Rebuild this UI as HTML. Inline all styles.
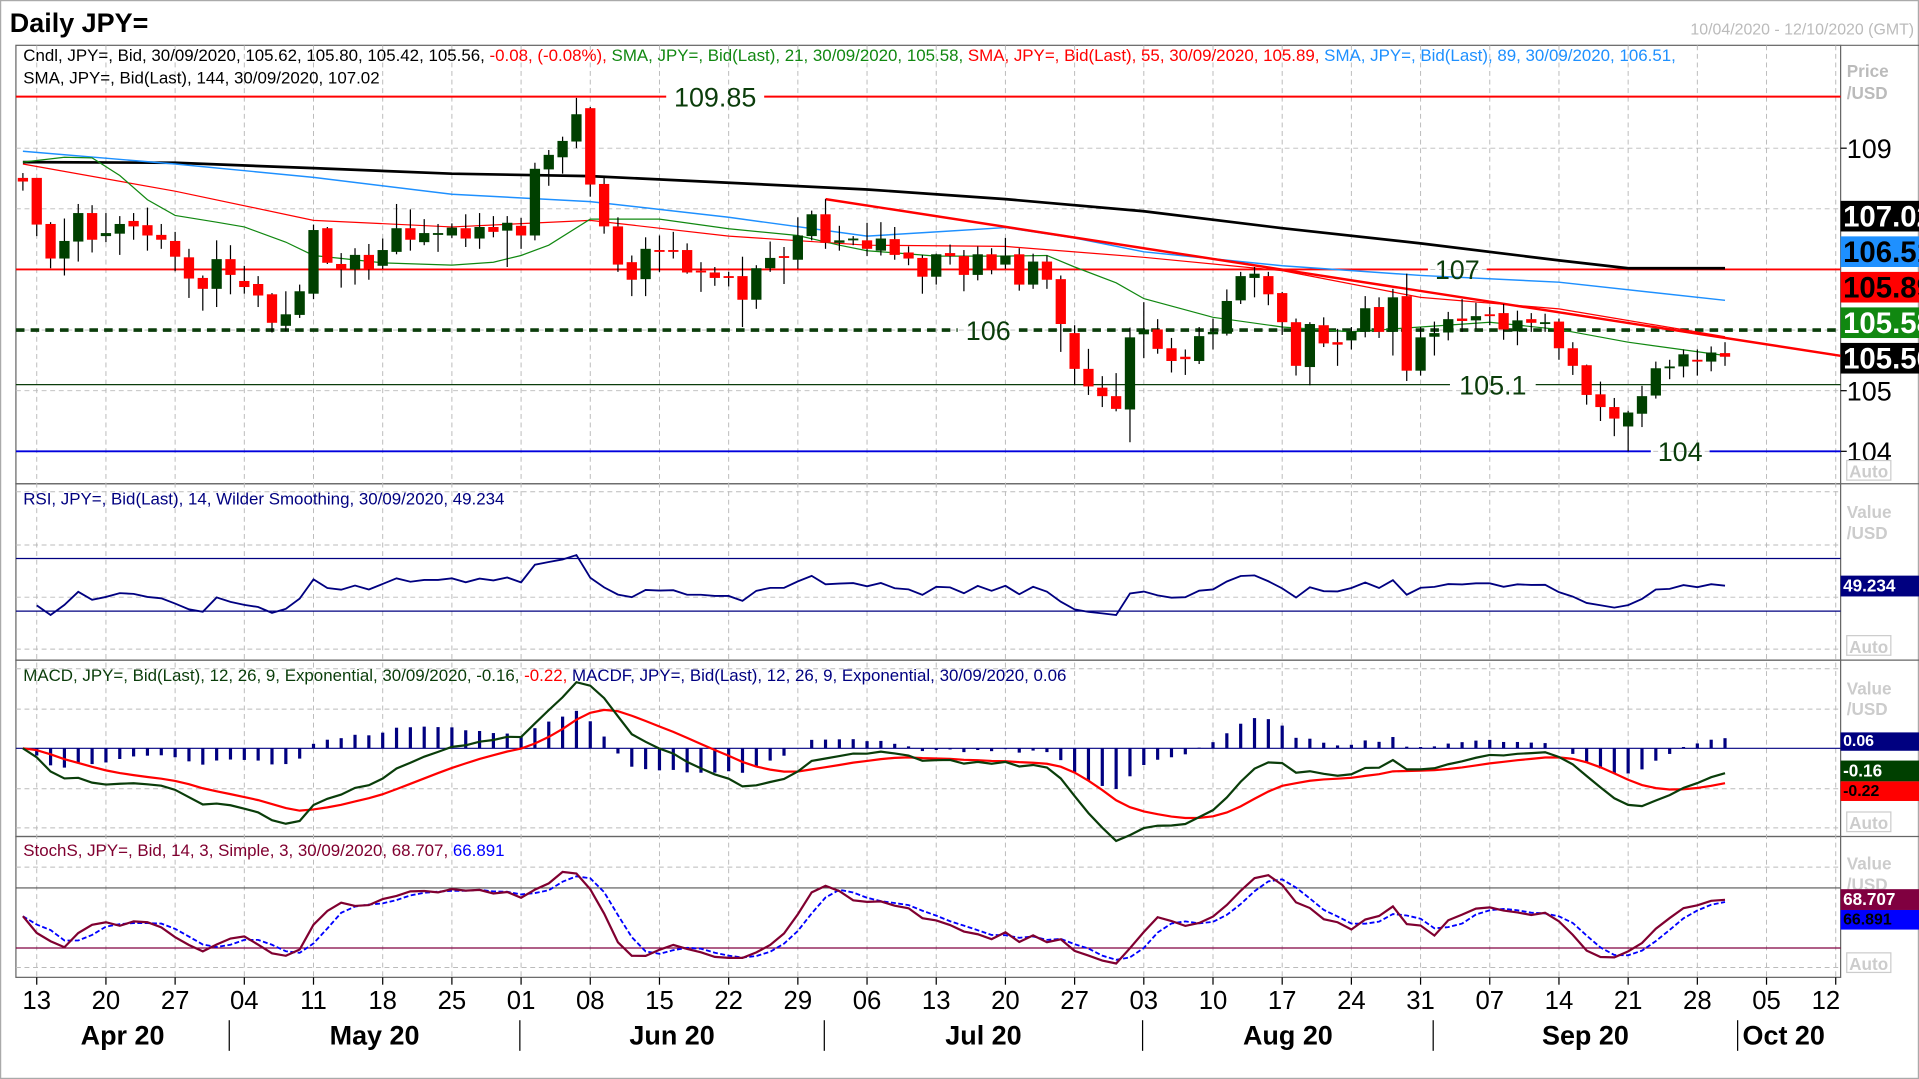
<!DOCTYPE html>
<html><head><meta charset="utf-8">
<style>
html,body{margin:0;padding:0;background:#fff;}
svg{display:block;font-family:"Liberation Sans",sans-serif;}
</style></head>
<body>
<svg id="chart" width="1919" height="1079" viewBox="0 0 1567 881" preserveAspectRatio="none" xmlns="http://www.w3.org/2000/svg">
<rect x="0" y="0" width="1567" height="881" fill="#fff"/>
<rect x="0.5" y="0.5" width="1566" height="880" fill="none" stroke="#aaa"/>
<text x="8" y="26" font-size="22" font-weight="bold" fill="#000">Daily JPY=</text>
<text x="1563" y="28" font-size="13" fill="#bbb" text-anchor="end">10/04/2020 - 12/10/2020 (GMT)</text>
<g id="grid"></g>
<g id="marks"></g>
<g id="labels"></g>
</svg>
<script>
// ---- data (Apr 10 2020 .. Sep 30 2020, index -1 .. 122) ----
const opens=[108.51,108.51,107.75,107.18,107.46,107.93,107.55,107.59,107.80,107.73,107.57,107.47,107.20,106.86,106.68,107.17,106.81,106.76,106.59,106.07,106.25,106.60,107.68,107.09,107.00,107.24,107.06,107.29,107.68,107.45,107.57,107.56,107.68,107.51,107.70,107.64,107.72,107.56,108.65,108.85,109.11,109.66,108.41,107.71,107.12,106.84,107.32,107.32,107.32,106.98,106.95,106.89,106.89,106.50,107.02,107.22,107.16,107.55,107.91,107.44,107.48,107.48,107.31,107.50,107.28,107.19,106.88,107.27,107.22,106.91,107.25,107.08,107.25,106.75,107.13,106.84,105.95,105.36,105.05,104.91,104.69,105.93,106.01,105.70,105.56,105.49,105.93,105.94,106.49,106.86,106.89,106.61,106.13,105.39,106.08,105.80,105.83,105.97,106.38,105.97,106.56,105.33,105.89,105.96,106.19,106.16,106.26,106.28,105.98,106.18,106.11,106.14,105.70,105.42,104.94,104.73,104.41,104.62,104.92,105.38,105.40,105.51,105.48,105.62];
const highs=[108.59,108.51,107.78,107.84,108.08,108.06,107.93,107.88,107.93,108.02,107.75,107.62,107.34,106.90,107.48,107.40,107.06,106.89,106.61,106.64,106.75,107.74,107.70,107.27,107.35,107.42,107.51,108.08,107.99,107.83,107.75,107.76,107.91,107.93,107.88,107.88,107.85,108.76,108.97,109.19,109.83,109.68,108.51,107.86,107.23,107.53,107.56,107.62,107.43,107.12,107.04,106.96,107.21,107.07,107.46,107.37,107.86,107.97,108.16,107.72,107.55,107.77,107.78,107.70,107.38,107.24,107.26,107.41,107.32,107.38,107.35,107.52,107.35,107.26,107.23,106.90,106.08,105.69,105.24,105.29,106.04,106.46,106.18,105.87,105.68,106.05,106.19,106.67,106.96,107.04,106.96,106.63,106.19,106.13,106.21,106.02,106.05,106.56,106.54,106.68,106.93,106.05,106.14,106.30,106.51,106.45,106.38,106.43,106.32,106.28,106.27,106.19,105.80,105.43,105.15,104.88,104.67,105.08,105.48,105.51,105.68,105.68,105.73,105.80];
const lows=[108.30,107.55,107.02,106.90,107.13,107.28,107.45,107.24,107.49,107.31,107.34,106.97,106.53,106.32,106.38,106.59,106.60,106.38,105.96,105.98,106.20,106.51,107.09,106.70,106.75,106.83,107.01,107.25,107.31,107.40,107.29,107.52,107.37,107.34,107.53,107.04,107.34,107.48,108.38,108.58,109.00,108.20,107.59,106.96,106.56,106.56,106.96,107.18,106.93,106.63,106.73,106.72,106.05,106.35,106.96,106.76,107.01,107.48,107.34,107.31,107.40,107.22,107.23,107.16,107.07,106.60,106.75,107.08,106.64,106.82,106.92,107.01,106.65,106.68,106.68,105.64,105.09,104.93,104.73,104.66,104.15,105.54,105.61,105.30,105.26,105.44,105.68,105.91,106.43,106.54,106.41,105.92,105.25,105.09,105.72,105.41,105.68,105.88,105.87,105.58,105.16,105.25,105.58,105.83,105.97,106.02,106.08,105.84,105.75,105.97,105.97,105.51,105.26,104.77,104.50,104.25,104.00,104.40,104.87,105.19,105.22,105.25,105.32,105.41];
const closes=[108.45,107.74,107.18,107.47,107.93,107.49,107.60,107.75,107.71,107.56,107.49,107.21,106.85,106.68,107.17,106.91,106.71,106.57,106.12,106.26,106.64,107.65,107.11,107.00,107.24,107.00,107.32,107.68,107.49,107.60,107.60,107.69,107.51,107.70,107.62,107.77,107.56,108.66,108.89,109.12,109.56,108.40,107.71,107.08,106.83,107.34,107.29,107.31,106.95,106.95,106.86,106.86,106.50,107.02,107.19,107.19,107.56,107.91,107.44,107.48,107.51,107.34,107.51,107.24,107.18,106.88,107.25,107.22,106.91,107.25,106.99,107.23,106.75,107.13,106.83,106.10,105.36,105.07,104.91,104.70,105.88,106.01,105.69,105.49,105.52,105.90,105.97,106.48,106.89,106.93,106.59,106.13,105.41,106.10,105.78,105.76,105.98,106.36,105.97,106.54,105.33,105.88,105.95,106.18,106.15,106.23,106.23,106.01,106.16,106.12,106.13,105.70,105.41,104.93,104.73,104.54,104.64,104.91,105.37,105.40,105.60,105.49,105.63,105.56];
const smaIdx21=[-1,2,4,6,8,10,13,15,18,20,25,30,33,35,37,40,45,50,55,58,60,65,70,73,75,78,80,85,90,95,100,105,110,115,122];
const sma21=[108.77,108.85,108.84,108.55,108.15,107.89,107.78,107.70,107.45,107.23,107.11,107.07,107.12,107.23,107.40,107.83,107.83,107.67,107.56,107.40,107.31,107.22,107.22,107.23,107.04,106.78,106.52,106.21,106.05,105.97,106.05,106.13,106.01,105.80,105.58];
const smaIdx55=[-1,10,20,30,40,50,60,70,80,90,100,110,122];
const sma55=[108.74,108.29,107.81,107.70,107.81,107.55,107.40,107.38,107.20,106.98,106.54,106.35,105.89];
const smaIdx89=[-1,10,20,30,40,50,60,65,70,75,80,90,100,110,122];
const sma89=[108.95,108.74,108.52,108.24,108.12,107.86,107.55,107.62,107.69,107.52,107.29,107.06,106.90,106.79,106.49];
const smaIdx144=[-1,10,20,30,40,50,60,70,80,90,100,110,115,122];
const sma144=[108.77,108.76,108.67,108.58,108.54,108.43,108.32,108.16,107.96,107.68,107.43,107.15,107.02,107.02];
const levels=[109.85,107,106,105.1,104];
const levelLabels=["109.85","107","106","105.1","104"];
const trendIdx=[57,122];
const trendVal=[108.16,105.87];
const dayTicks=["13","20","27","04","11","18","25","01","08","15","22","29","06","13","20","27","03","10","17","24","31","07","14","21","28","05","12"];
const monthNames=["Apr 20","May 20","Jun 20","Jul 20","Aug 20","Sep 20","Oct 20"];
const monthStart=[-2,14,35,57,80,101,123];

const NS="http://www.w3.org/2000/svg";
const X0=30, STEP=11.3, FIRST=-1;
function xOf(i){return X0+STEP*i;}
function yP(p){return 319-(p-105)*49.5;}
function yR(v){return 499-(v-30)*1.075;}
function yM(v){return 611-v*130;}
function yS(v){return 774-(v-20)*0.8167;}
function mk(tag,attrs,parent,text){const e=document.createElementNS(NS,tag);for(const k in attrs)e.setAttribute(k,attrs[k]);if(text!==undefined)e.textContent=text;parent.appendChild(e);return e;}
const grid=document.getElementById('grid'),marks=document.getElementById('marks'),lab=document.getElementById('labels');

const panels=[[37,395],[395,539],[539,683],[683,798]];
panels.forEach((p,k)=>{const r=mk('rect',{x:13,y:p[0],width:1490,height:p[1]-p[0],fill:'none',stroke:'#666','stroke-width':1},grid);

});
mk('line',{x1:1503,y1:37,x2:1567,y2:37,stroke:'#666'},grid);
[395,539,683].forEach(y=>mk('line',{x1:1503,y1:y,x2:1567,y2:y,stroke:'#666'},grid));
for(let k=0;k<dayTicks.length;k++){const x=xOf(5*k);if(x>1500)continue;
 mk('line',{x1:x,y1:37,x2:x,y2:798,stroke:'#bbb','stroke-dasharray':'4,3','stroke-width':0.8},grid);
 mk('line',{x1:x,y1:798,x2:x,y2:804,stroke:'#000'},grid);}
[109,108,107,106,105,104].forEach(p=>mk('line',{x1:13,y1:yP(p),x2:1503,y2:yP(p),stroke:'#bbb','stroke-dasharray':'4,3','stroke-width':0.8},grid));
[401.5,445,487.6,530].forEach(y=>mk('line',{x1:13,y1:y,x2:1503,y2:y,stroke:'#bbb','stroke-dasharray':'4,3','stroke-width':0.8},grid));
[546,579,644,676].forEach(y=>mk('line',{x1:13,y1:y,x2:1503,y2:y,stroke:'#bbb','stroke-dasharray':'4,3','stroke-width':0.8},grid));
[708,790].forEach(y=>mk('line',{x1:13,y1:y,x2:1503,y2:y,stroke:'#bbb','stroke-dasharray':'4,3','stroke-width':0.8},grid));

const lvlStyle=[{c:'#ff0000',w:1.6},{c:'#ff0000',w:1.6},{c:'#0b3d0b',w:3,d:'7,5'},{c:'#0b3d0b',w:1},{c:'#0000dd',w:1.6}];
const lblX=[[548,620],[1170,1210],[786,828],[1188,1250],[1352,1392]];
levels.forEach((v,k)=>{const y=yP(v),s=lvlStyle[k];
 const a={x1:13,y1:y,x2:lblX[k][0]-4,y2:y,stroke:s.c,'stroke-width':s.w};if(s.d)a['stroke-dasharray']=s.d;
 const l1=mk('line',a,marks);
 
 
 const b=Object.assign({},a,{x1:lblX[k][1]+4,x2:1503});mk('line',b,marks);
 const t=mk('text',{x:(lblX[k][0]+lblX[k][1])/2,y:y+8,'font-size':22,fill:'#0b3d0b','text-anchor':'middle'},lab,levelLabels[k]);
 
 });

function poly(idx,vals,yf,color,w,name,dash){const pts=idx.map((i,k)=>xOf(i).toFixed(1)+','+yf(vals[k]).toFixed(1)).join(' ');
 const a={points:pts,fill:'none',stroke:color,'stroke-width':w};if(dash)a['stroke-dasharray']=dash;
 const p=mk('polyline',a,marks);
 
 return p;}
poly(smaIdx144,sma144,yP,'#000',2.2,'sma-144-line');
poly(smaIdx89,sma89,yP,'#1e90ff',1.2,'sma-89-line');
poly(smaIdx55,sma55,yP,'#ff0000',1,'sma-55-line');
poly(smaIdx21,sma21,yP,'#118811',1,'sma-21-line');
(function(){const slope=(trendVal[1]-trendVal[0])/(trendIdx[1]-trendIdx[0]);const iEnd=(1503-X0)/STEP;
 const l=mk('line',{x1:xOf(trendIdx[0]),y1:yP(trendVal[0]),x2:1503,y2:yP(trendVal[0]+slope*(iEnd-trendIdx[0])),stroke:'#ff0000','stroke-width':2},marks);
 
 })();

closes.forEach((c,k)=>{const i=k+FIRST,x=xOf(i),o=opens[k];const up=c>=o;
 const w=mk('line',{x1:x,y1:yP(highs[k]),x2:x,y2:yP(lows[k]),stroke:'#000','stroke-width':1},marks);
 
 
 const top=yP(Math.max(o,c)),bot=yP(Math.min(o,c));
 const r=mk('rect',{x:x-4.2,y:top,width:8.4,height:Math.max(bot-top,1.5),fill:up?'#004000':'#ff0000'},marks);
 
 });

const n=closes.length;
const rsi=[];let ag=0,al=0;
for(let k=1;k<n;k++){const d=closes[k]-closes[k-1];const g=Math.max(d,0),l=Math.max(-d,0);
 if(k===1){ag=0.06;al=0.06;} ag=(ag*13+g)/14;al=(al*13+l)/14;rsi.push(100-100/(1+ag/(al||1e-9)));}
mk('line',{x1:13,y1:yR(70),x2:1503,y2:yR(70),stroke:'#000080','stroke-width':1},marks);
mk('line',{x1:13,y1:yR(30),x2:1503,y2:yR(30),stroke:'#000080','stroke-width':1},marks);
poly(rsi.map((_,k)=>k+1+FIRST),rsi,yR,'#000080',1.5,'rsi-line');
let e12=closes[0],e26=closes[0];const macd=[],sig=[];let s9=0;
for(let k=0;k<n;k++){e12=e12+(closes[k]-e12)*2/13;e26=e26+(closes[k]-e26)*2/27;const m=e12-e26;macd.push(m);s9=k===0?m:s9+(m-s9)*0.2;sig.push(s9);}
mk('line',{x1:13,y1:yM(0),x2:1503,y2:yM(0),stroke:'#000080','stroke-width':1},marks);
macd.forEach((m,k)=>{const h=m-sig[k];const x=xOf(k+FIRST);
 const b=mk('rect',{x:x-1.3,y:Math.min(yM(0),yM(h)),width:2.6,height:Math.abs(yM(h)-yM(0)),fill:'#000080'},marks);
 
 });
const idxAll=closes.map((_,k)=>k+FIRST);
poly(idxAll,sig,yM,'#ff0000',1.8,'macd-signal-line');
poly(idxAll,macd,yM,'#0a3d0a',1.8,'macd-line');
const raw=[];for(let k=0;k<n;k++){let hh=-1e9,ll=1e9;for(let j=Math.max(0,k-13);j<=k;j++){hh=Math.max(hh,highs[j]);ll=Math.min(ll,lows[j]);}raw.push(100*(closes[k]-ll)/((hh-ll)||1));}
const sm3=a=>a.map((_,k)=>{let s=0,c=0;for(let j=Math.max(0,k-2);j<=k;j++){s+=a[j];c++;}return s/c;});
const sk=sm3(raw),sd=sm3(sk);
mk('line',{x1:13,y1:yS(80),x2:1503,y2:yS(80),stroke:'#555','stroke-width':1},marks);
mk('line',{x1:13,y1:yS(20),x2:1503,y2:yS(20),stroke:'#800040','stroke-width':1},marks);
poly(idxAll,sd,yS,'#0000ff',1.5,'stoch-d-line','4,2');
poly(idxAll,sk,yS,'#800030',1.8,'stoch-k-line');

function hdr(y,parts,name){const t=mk('text',{x:19,y:y,'font-size':13.8},lab);
 
 
 parts.forEach(p=>{mk('tspan',{fill:p[1]},t,p[0]);});}
hdr(50,[["Cndl, JPY=, Bid, 30/09/2020, 105.62, 105.80, 105.42, 105.56, ","#000"],["-0.08, (-0.08%), ","#ff0000"],["SMA, JPY=, Bid(Last),  21, 30/09/2020, 105.58, ","#118811"],["SMA, JPY=, Bid(Last),  55, 30/09/2020, 105.89, ","#ff0000"],["SMA, JPY=, Bid(Last),  89, 30/09/2020, 106.51,","#1e90ff"]],'price-legend');
hdr(68,[["SMA, JPY=, Bid(Last),  144, 30/09/2020, 107.02","#000"]],'sma144-legend');
hdr(412,[["RSI, JPY=, Bid(Last),  14, Wilder Smoothing, 30/09/2020, 49.234","#000080"]],'rsi-legend');
hdr(556,[["MACD, JPY=, Bid(Last),  12, 26, 9, Exponential, 30/09/2020, -0.16, ","#0a3d0a"],["-0.22, ","#ff0000"],["MACDF, JPY=, Bid(Last),  12, 26, 9, Exponential, 30/09/2020, 0.06","#000080"]],'macd-legend');
hdr(699,[["StochS, JPY=, Bid,  14, 3, Simple, 3, 30/09/2020, 68.707, ","#800030"],["66.891","#0000ff"]],'stoch-legend');

function rt(x,y,s,txt,col,bold,name){const t=mk('text',{x:x,y:y,'font-size':s,fill:col,'font-weight':bold?'bold':'normal'},lab,txt);
 
 return t;}
rt(1508,63,14,"Price","#bbb",true,'price-axis-title');rt(1508,81,14,"/USD","#bbb",true,'price-axis-unit');
[109,105,104].forEach(p=>{rt(1508,yP(p)+8,22,String(p),'#000',false,'price-tick');mk('line',{x1:1503,y1:yP(p),x2:1508,y2:yP(p),stroke:'#000'},grid);});
function box(y,h,bg,txt,s,col,name){mk('rect',{x:1503,y:y,width:64,height:h,fill:bg},lab);rt(1505,y+h-4,s,txt,col,true,name);}
box(164,25,'#000','107.02',24,'#fff','sma144-value-tag');
box(193,25,'#1e90ff','106.51',24,'#000','sma89-value-tag');
box(222,25,'#ff0000','105.89',24,'#000','sma55-value-tag');
box(251,25,'#118811','105.58',24,'#fff','sma21-value-tag');
box(280,25,'#000','105.56',24,'#fff','last-price-tag');
[[388,'main'],[531,'rsi'],[675,'macd'],[790,'stoch']].forEach(a=>{mk('rect',{x:1508,y:a[0]-12,width:36,height:16,fill:'#fff',stroke:'#ccc'},lab);rt(1510,a[0]+2,14,'Auto','#ccc',true,a[1]+'-auto-button');});
[[423,'rsi'],[567,'macd'],[710,'stoch']].forEach(a=>{rt(1508,a[0],14,'Value','#ccc',true,a[1]+'-axis-title');rt(1508,a[0]+17,14,'/USD','#ccc',true,a[1]+'-axis-unit');});
box(470,17,'#000080','49.234',14,'#fff','rsi-value-tag');
box(598,15,'#000080','0.06',13,'#fff','macdf-value-tag');
box(621,17,'#004000','-0.16',14,'#fff','macd-value-tag');
box(638,16,'#ff0000','-0.22',13,'#000','signal-value-tag');
box(726,17,'#800040','68.707',14,'#fff','stoch-k-value-tag');
box(743,16,'#0000ff','66.891',13,'#000','stoch-d-value-tag');

dayTicks.forEach((t,k)=>{let x=xOf(5*k);if(x>1495)x=1491;const e=mk('text',{x:x,y:824,'font-size':21,'text-anchor':'middle',fill:'#000'},lab,t);
 
 });
monthStart.forEach((m,k)=>{const xs=k===0?13:xOf(m)-1;if(k>0)mk('line',{x1:xs,y1:833,x2:xs,y2:858,stroke:'#000'},grid);
 let xc,anchor='middle';if(k<monthStart.length-1){xc=(xs+xOf(monthStart[k+1])-1)/2;}else{xc=xs+4;anchor='start';}
 const e=mk('text',{x:xc,y:853,'font-size':22,'font-weight':'bold','text-anchor':anchor,fill:'#000'},lab,monthNames[k]);
 
 });
</script>
</body></html>
